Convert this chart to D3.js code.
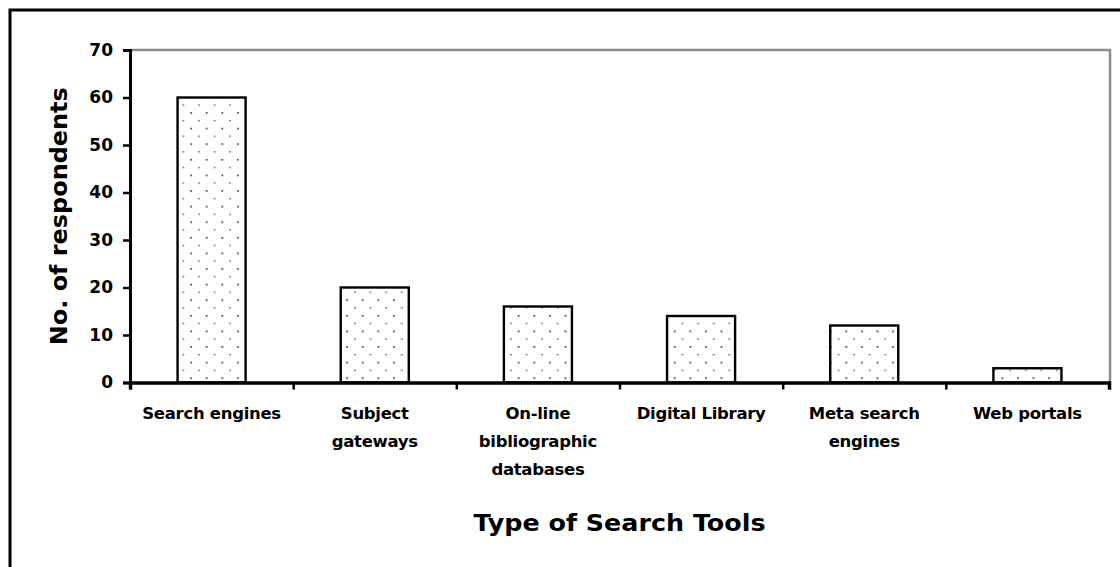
<!DOCTYPE html>
<html>
<head>
<meta charset="utf-8">
<script src="https://cdn.jsdelivr.net/npm/d3@7"></script>
<style>
  html, body { margin: 0; padding: 0; background: #fff; }
  svg { display: block; }
  text { font-family: "DejaVu Sans", "Liberation Sans", Arial, sans-serif; fill: #000; }
</style>
</head>
<body>
<svg id="chart" width="1120" height="567"></svg>
<script>
const categories = ["Search engines", "Subject gateways", "On-line bibliographic databases", "Digital Library", "Meta search engines", "Web portals"];
const categoryLines = [["Search engines"], ["Subject", "gateways"], ["On-line", "bibliographic", "databases"], ["Digital Library"], ["Meta search", "engines"], ["Web portals"]];
const values = [60, 20, 16, 14, 12, 3];
const yTicks = [0, 10, 20, 30, 40, 50, 60, 70];
const xTitle = "Type of Search Tools";
const yTitle = "No. of respondents";

(function () {
const svg = d3.select("#chart");
const pLeft = 130, pRight = 1109, pTop = 50, pBottom = 382.5;
const FONT = "'DejaVu Sans', 'Liberation Sans', Arial, sans-serif";

// outer frame
svg.append("rect").attr("x", 10).attr("y", 10).attr("width", 1130).attr("height", 580)
  .attr("fill", "none").attr("stroke", "#000").attr("stroke-width", 3);

// pattern
const defs = svg.append("defs");
const pat = defs.append("pattern").attr("id", "dots").attr("patternUnits", "userSpaceOnUse")
  .attr("width", 15.6).attr("height", 15.6);
pat.append("rect").attr("width", 15.6).attr("height", 15.6).attr("fill", "#fff");
pat.append("rect").attr("x", 3).attr("y", 3).attr("width", 1.8).attr("height", 1.5).attr("fill", "#333");
pat.append("rect").attr("x", 10.8).attr("y", 10.8).attr("width", 1.8).attr("height", 1.3).attr("fill", "#666");

const x = d3.scaleBand().domain(categories).range([pLeft, pRight]).paddingInner(0.583).paddingOuter(0.2915);
const xEdges = d3.scaleLinear().domain([0, categories.length]).range([pLeft, pRight]);
const y = d3.scaleLinear().domain([0, 70]).range([pBottom, pTop]);

// plot border (top & right, gray)
svg.append("path").attr("d", d3.line()([[pLeft, y(70)], [pRight + 1, y(70)], [pRight + 1, pBottom]]))
  .attr("fill", "none").attr("stroke", "#8c8c8c").attr("stroke-width", 2.5);

// bars
svg.append("g").selectAll("rect").data(values).join("rect")
  .attr("x", (d, i) => x(categories[i]))
  .attr("y", d => y(d))
  .attr("width", x.bandwidth())
  .attr("height", d => y(0) - y(d))
  .attr("fill", "url(#dots)")
  .attr("stroke", "#000").attr("stroke-width", 2.4);

// y axis
const yAxis = svg.append("g").attr("transform", `translate(${pLeft},0)`)
  .call(d3.axisLeft(y).tickValues(yTicks).tickSize(7).tickPadding(10).tickFormat(d3.format("d")));
yAxis.select(".domain").attr("stroke", "#000").attr("stroke-width", 3);
yAxis.selectAll(".tick line").attr("stroke", "#000").attr("stroke-width", 2.5);
yAxis.selectAll(".tick text").attr("font-size", 17).attr("font-weight", "bold")
  .attr("font-family", FONT).attr("fill", "#000");

// x axis
const xAxis = svg.append("g").attr("transform", `translate(0,${pBottom})`)
  .call(d3.axisBottom(xEdges).ticks(categories.length).tickSize(7).tickFormat(""));
xAxis.select(".domain").attr("stroke", "#000").attr("stroke-width", 3.5);
xAxis.selectAll(".tick line").attr("stroke", "#000").attr("stroke-width", 2.5);

// x category labels
const lab = svg.append("g");
categoryLines.forEach((lines, i) => {
  const cx = x(categories[i]) + x.bandwidth() / 2;
  lines.forEach((ln, j) => {
    lab.append("text").attr("x", cx).attr("y", 419 + j * 28)
      .attr("text-anchor", "middle").attr("font-size", 16.5).attr("font-weight", "bold")
      .attr("letter-spacing", -0.3)
      .text(ln);
  });
});

// axis titles
svg.append("text").attr("x", (pLeft + pRight) / 2).attr("y", 531)
  .attr("text-anchor", "middle").attr("font-size", 23).attr("font-weight", "bold")
  .attr("textLength", 292).attr("lengthAdjust", "spacingAndGlyphs")
  .text(xTitle);

svg.append("text").attr("transform", `translate(67,${(pTop + pBottom) / 2}) rotate(-90)`)
  .attr("text-anchor", "middle").attr("font-size", 23).attr("font-weight", "bold")
  .attr("textLength", 258).attr("lengthAdjust", "spacingAndGlyphs")
  .text(yTitle);
})();
</script>
</body>
</html>
